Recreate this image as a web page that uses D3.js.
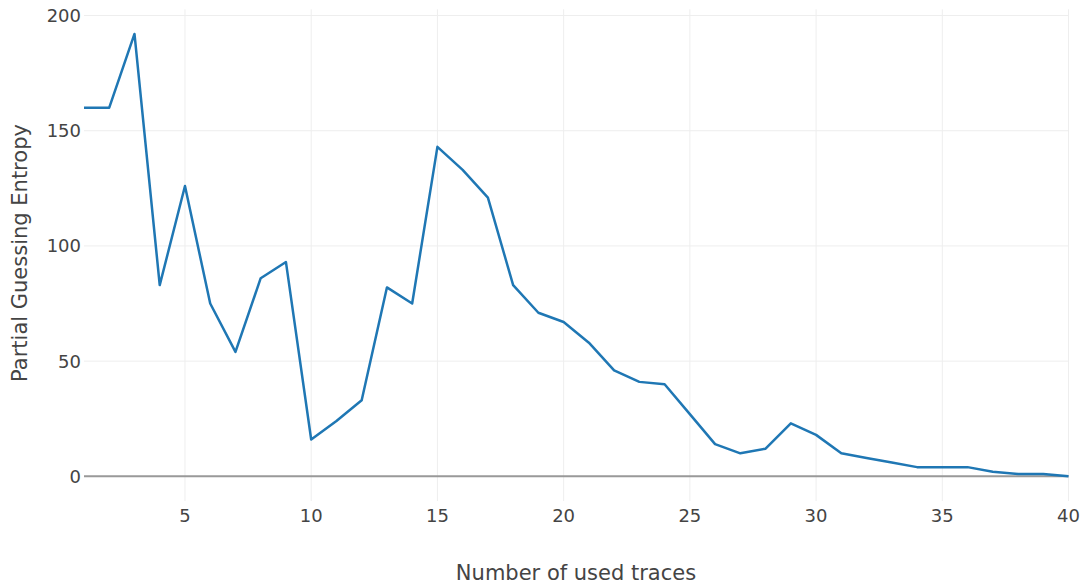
<!DOCTYPE html>
<html>
<head>
<meta charset="utf-8">
<script src="https://cdn.jsdelivr.net/npm/d3@7"></script>
<style>
  html, body { margin: 0; padding: 0; background: #fff; }
  svg { display: block; font-family: "DejaVu Sans", Verdana, sans-serif; }
</style>
</head>
<body>
<div id="chart"></div>
<script>
// number of traces on x, partial guessing entropy on y
const traces = d3.range(1, 41);
const entropy = [
  160, 160, 192, 83, 126, 75, 54, 86, 93, 16,
  24, 33, 82, 75, 143, 133, 121, 83, 71, 67,
  58, 46, 41, 40, 27, 14, 10, 12, 23, 18,
  10, 8, 6, 4, 4, 4, 2, 1, 1, 0
];
const xTicks = [5, 10, 15, 20, 25, 30, 35, 40];
const yTicks = [0, 50, 100, 150, 200];

const width = 1083, height = 587;
const plot = { left: 84, right: 1068.5, top: 9.3, bottom: 501 };

const svg = d3.select('#chart').append('svg')
    .attr('width', width)
    .attr('height', height);

const x = d3.scaleLinear().domain([1, 40]).range([plot.left, plot.right]);
const y = d3.scaleLinear().domain([-10.7, 202.7]).range([plot.bottom, plot.top]);

// grid
svg.append('g')
    .selectAll('line')
    .data(xTicks)
    .join('line')
    .attr('x1', d => x(d)).attr('x2', d => x(d))
    .attr('y1', plot.top).attr('y2', plot.bottom)
    .attr('stroke', '#eee').attr('stroke-width', 1);

svg.append('g')
    .selectAll('line')
    .data(yTicks.filter(d => d !== 0))
    .join('line')
    .attr('x1', plot.left).attr('x2', plot.right)
    .attr('y1', d => y(d)).attr('y2', d => y(d))
    .attr('stroke', '#eee').attr('stroke-width', 1);

// zero line
svg.append('line')
    .attr('x1', plot.left).attr('x2', plot.right)
    .attr('y1', y(0)).attr('y2', y(0))
    .attr('stroke', '#999').attr('stroke-width', 2);

// tick labels
svg.append('g')
    .selectAll('text')
    .data(yTicks)
    .join('text')
    .attr('x', plot.left - 3)
    .attr('y', d => y(d))
    .attr('dy', '0.36em')
    .attr('text-anchor', 'end')
    .attr('font-size', 18)
    .attr('fill', '#444')
    .text(d => d);

svg.append('g')
    .selectAll('text')
    .data(xTicks)
    .join('text')
    .attr('x', d => x(d))
    .attr('y', 522)
    .attr('text-anchor', 'middle')
    .attr('font-size', 18)
    .attr('fill', '#444')
    .text(d => d);

// axis titles
svg.append('text')
    .attr('x', 576)
    .attr('y', 580)
    .attr('text-anchor', 'middle')
    .attr('font-size', 21)
    .attr('fill', '#444')
    .text('Number of used traces');

svg.append('text')
    .attr('transform', 'translate(27, 253) rotate(-90)')
    .attr('text-anchor', 'middle')
    .attr('font-size', 21)
    .attr('fill', '#444')
    .text('Partial Guessing Entropy');

// the line
const line = d3.line()
    .x((d, i) => x(traces[i]))
    .y(d => y(d));

svg.append('path')
    .datum(entropy)
    .attr('d', line)
    .attr('fill', 'none')
    .attr('stroke', '#1f77b4')
    .attr('stroke-width', 2.5)
    .attr('stroke-linejoin', 'round');
</script>
</body>
</html>
